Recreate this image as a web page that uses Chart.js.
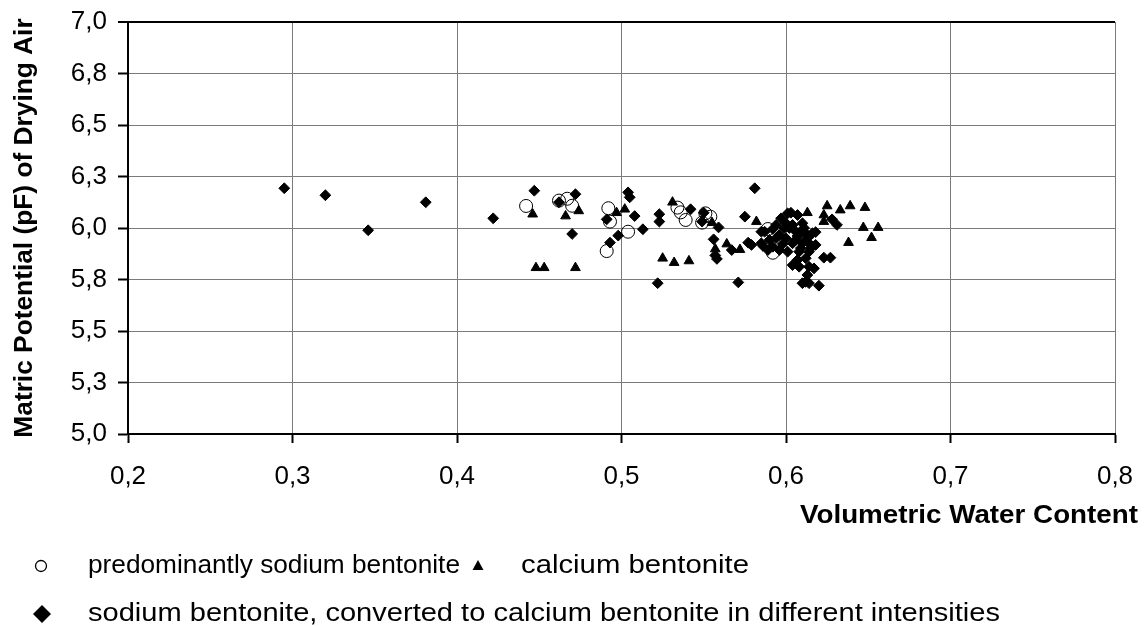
<!DOCTYPE html>
<html>
<head>
<meta charset="utf-8">
<script src="https://cdn.jsdelivr.net/npm/chart.js@4.4.1/dist/chart.umd.min.js"></script>
<style>
  html, body { margin: 0; padding: 0; background: #fff; }
  #wrap { width: 1146px; height: 626px; }
</style>
</head>
<body>
<div id="wrap"><canvas id="myChart" width="1146" height="626"></canvas></div>
<script>
// tick labels (comma decimals as in the original)
var xTickLabels = ['0,2', '0,3', '0,4', '0,5', '0,6', '0,7', '0,8'];
var yTickLabels = ['5,0', '5,3', '5,5', '5,8', '6,0', '6,3', '6,5', '6,8', '7,0'];

var seriesNames = [
    'predominantly sodium bentonite',
    'calcium bentonite',
    'sodium bentonite, converted to calcium bentonite in different intensities'
];

// [volumetric water content, pF]
var sodiumPts = [
    [0.442, 6.107], [0.462, 6.133], [0.467, 6.142], [0.470, 6.108], [0.492, 6.096],
    [0.493, 6.031], [0.491, 5.888], [0.504, 5.982], [0.534, 6.099], [0.536, 6.076],
    [0.539, 6.039], [0.551, 6.071], [0.554, 6.055], [0.549, 6.026], [0.589, 5.995],
    [0.592, 5.880]
];

var calciumPts = [
    [0.446, 6.067], [0.448, 5.807], [0.453, 5.807], [0.474, 6.083], [0.466, 6.058],
    [0.472, 5.807], [0.497, 6.074], [0.502, 6.091], [0.525, 5.853], [0.532, 5.832],
    [0.541, 5.840], [0.531, 6.125], [0.555, 6.026], [0.564, 5.922], [0.557, 5.898],
    [0.572, 5.895], [0.582, 6.031], [0.613, 6.074], [0.625, 6.107], [0.623, 6.063],
    [0.623, 6.031], [0.633, 6.087], [0.639, 6.107], [0.648, 6.099], [0.647, 6.002],
    [0.656, 6.002], [0.652, 5.953], [0.638, 5.929]
];

var convertedPts = [
    [0.295, 6.193], [0.320, 6.159], [0.346, 5.989], [0.381, 6.125], [0.422, 6.047],
    [0.447, 6.181], [0.462, 6.125], [0.472, 6.164], [0.470, 5.971], [0.491, 6.042],
    [0.498, 5.963], [0.493, 5.929], [0.504, 6.173], [0.505, 6.149], [0.508, 6.058],
    [0.513, 5.994], [0.522, 5.732], [0.523, 6.067], [0.523, 6.031], [0.542, 6.091],
    [0.550, 6.074], [0.549, 6.031], [0.559, 6.003], [0.556, 5.945], [0.567, 5.893],
    [0.557, 5.867], [0.558, 5.850], [0.571, 5.736], [0.581, 6.193], [0.575, 6.055],
    [0.585, 5.982], [0.577, 5.929], [0.579, 5.918], [0.586, 5.913],
    [0.603, 6.074], [0.607, 6.063], [0.601, 6.071], [0.597, 6.047], [0.600, 6.023],
    [0.594, 6.015], [0.592, 5.995], [0.587, 5.982], [0.606, 5.982], [0.610, 6.023],
    [0.612, 5.974], [0.616, 5.974], [0.596, 5.966], [0.590, 5.942], [0.585, 5.926],
    [0.600, 5.950], [0.604, 5.926], [0.610, 5.926], [0.614, 5.926], [0.618, 5.918],
    [0.592, 5.909], [0.589, 5.893], [0.596, 5.893], [0.601, 5.885], [0.608, 5.885],
    [0.614, 5.885], [0.607, 5.845], [0.612, 5.853], [0.604, 5.820], [0.608, 5.812],
    [0.614, 5.812], [0.617, 5.804], [0.623, 5.856], [0.627, 5.856], [0.613, 5.772],
    [0.612, 5.739], [0.610, 5.732], [0.614, 5.732], [0.620, 5.720], [0.604, 6.015],
    [0.609, 5.982], [0.606, 5.942], [0.613, 5.950], [0.615, 5.902], [0.609, 5.902],
    [0.628, 6.042], [0.631, 6.015], [0.599, 6.000], [0.602, 6.000], [0.607, 5.961],
    [0.611, 6.000], [0.618, 5.980], [0.598, 5.922], [0.594, 5.951]
];

function toXY(pts) {
    return pts.map(function (p) { return { x: p[0], y: p[1] }; });
}

var FONT = "'Liberation Sans', Arial, sans-serif";
var GRID = '#7a7a7a';

// the original legend text runs wider than plain Arial, so squeeze it to a width
function wideText(ctx, text, x, y, width) {
    var w = ctx.measureText(text).width;
    ctx.save();
    ctx.translate(x, y);
    ctx.scale(width / w, 1);
    ctx.fillText(text, 0, 0);
    ctx.restore();
}

// legend + x axis title drawn under the plot, Excel style
var bottomText = {
    id: 'bottomText',
    afterDraw: function (chart) {
        var ctx = chart.ctx;
        ctx.save();
        ctx.fillStyle = '#000';
        ctx.strokeStyle = '#000';
        ctx.textBaseline = 'middle';

        ctx.font = 'bold 26px ' + FONT;
        ctx.textAlign = 'left';
        wideText(ctx, 'Volumetric Water Content', 800, 516, 338);

        ctx.font = '25px ' + FONT;

        // circle
        ctx.lineWidth = 1.3;
        ctx.beginPath();
        ctx.arc(41, 566, 5.5, 0, Math.PI * 2);
        ctx.stroke();
        wideText(ctx, seriesNames[0], 88, 566, 372);

        // triangle
        ctx.beginPath();
        ctx.moveTo(478, 560);
        ctx.lineTo(483.5, 570);
        ctx.lineTo(472.5, 570);
        ctx.closePath();
        ctx.fill();
        wideText(ctx, seriesNames[1], 521, 566, 228);

        // diamond
        ctx.beginPath();
        ctx.moveTo(42, 605);
        ctx.lineTo(51, 614);
        ctx.lineTo(42, 623);
        ctx.lineTo(33, 614);
        ctx.closePath();
        ctx.fill();
        wideText(ctx, seriesNames[2], 88, 614, 912);

        ctx.restore();
    }
};

var ctx = document.getElementById('myChart');
var myChart = new Chart(ctx, {
    type: 'scatter',
    data: {
        datasets: [{
            label: seriesNames[0],
            data: toXY(sodiumPts),
            pointStyle: 'circle',
            pointRadius: 6.5,
            borderWidth: 1,
            borderColor: '#000',
            backgroundColor: 'rgba(255,255,255,0)',
            order: 3
        }, {
            label: seriesNames[1],
            data: toXY(calciumPts),
            pointStyle: 'triangle',
            pointRadius: 5.6,
            borderWidth: 1,
            borderColor: '#000',
            backgroundColor: '#000',
            order: 2
        }, {
            label: seriesNames[2],
            data: toXY(convertedPts),
            pointStyle: 'rectRot',
            pointRadius: 5.4,
            borderWidth: 1,
            borderColor: '#000',
            backgroundColor: '#000',
            order: 1
        }]
    },
    options: {
        responsive: false,
        animation: false,
        layout: {
            padding: { left: 0, right: 31, top: 22, bottom: 0 }
        },
        plugins: {
            legend: { display: false },
            tooltip: { enabled: false }
        },
        scales: {
            x: {
                type: 'linear',
                min: 0.2,
                max: 0.8,
                ticks: {
                    stepSize: 0.1,
                    color: '#000',
                    font: { family: FONT, size: 26 },
                    padding: 18,
                    maxRotation: 0,
                    callback: function (val, index) {
                        return xTickLabels[index];
                    }
                },
                grid: {
                    color: GRID,
                    lineWidth: 1,
                    tickColor: '#000',
                    tickWidth: 2,
                    tickLength: 9
                },
                border: { color: '#000', width: 2 },
                afterFit: function (scale) {
                    scale.height = 192;
                    scale.paddingLeft = 0;
                    scale.paddingRight = 0;
                }
            },
            y: {
                type: 'linear',
                min: 5,
                max: 7,
                ticks: {
                    stepSize: 0.25,
                    color: '#000',
                    font: { family: FONT, size: 26 },
                    padding: 11,
                    callback: function (val, index) {
                        return yTickLabels[index];
                    }
                },
                grid: {
                    color: function (c) { return c.tick && c.tick.value === 7 ? '#000' : GRID; },
                    lineWidth: function (c) { return c.tick && c.tick.value === 7 ? 2 : 1; },
                    tickColor: '#000',
                    tickWidth: 2,
                    tickLength: 10
                },
                border: { color: '#000', width: 2 },
                title: {
                    display: true,
                    text: 'Matric Potential (pF) of Drying Air',
                    color: '#000',
                    font: { family: FONT, size: 26.3, weight: 'bold' },
                    padding: { top: 9, bottom: 0 }
                },
                afterFit: function (scale) {
                    scale.width = 128;
                    scale.paddingTop = 0;
                    scale.paddingBottom = 0;
                }
            }
        }
    },
    plugins: [bottomText]
});
</script>
</body>
</html>
